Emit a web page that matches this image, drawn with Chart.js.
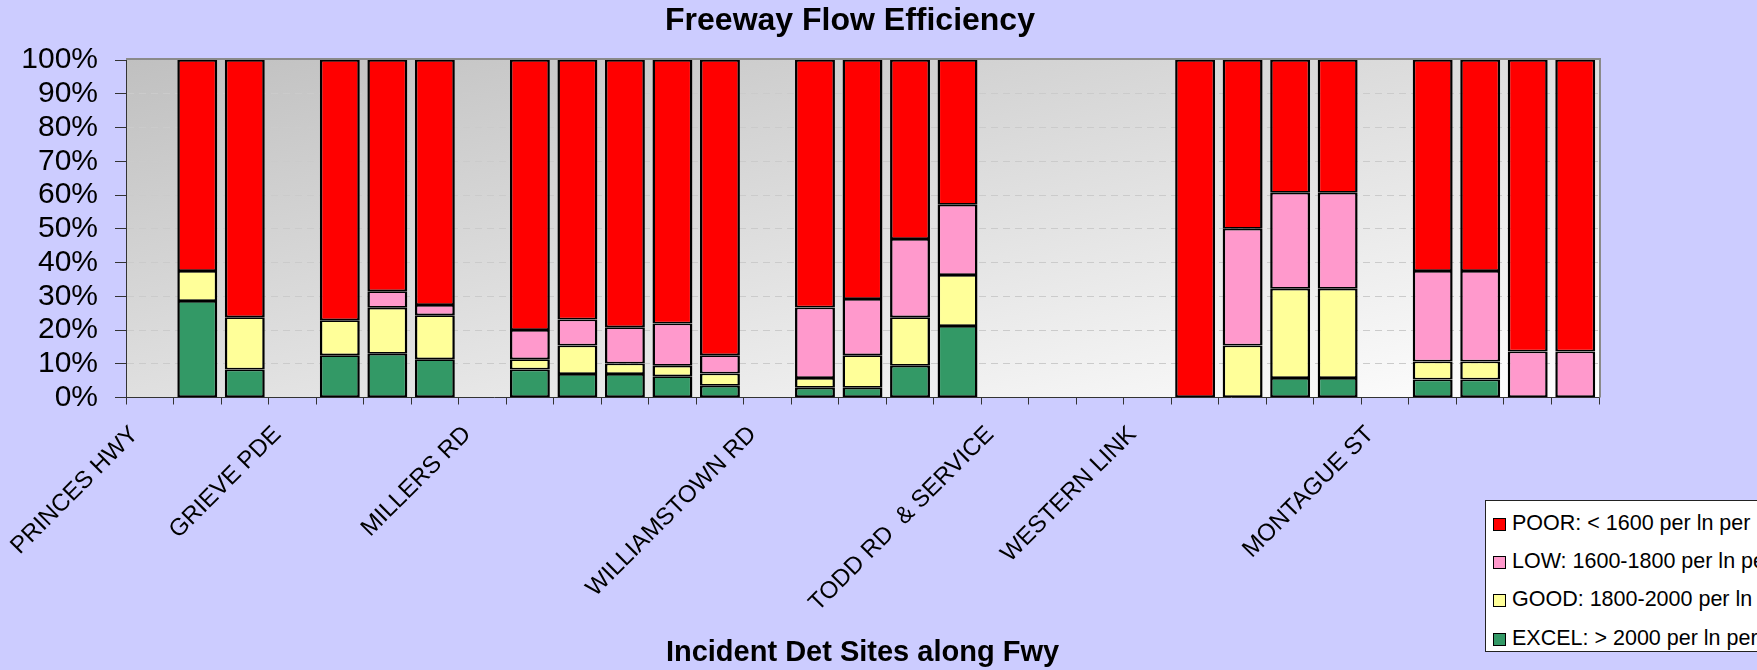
<!DOCTYPE html>
<html>
<head>
<meta charset="utf-8">
<title>Freeway Flow Efficiency</title>
<script src="https://cdn.jsdelivr.net/npm/chart.js@4.4.0/dist/chart.umd.min.js"></script>
<style>
  html, body { margin: 0; padding: 0; background: #ccccff; overflow: hidden; }
  #wrap { position: relative; width: 1757px; height: 670px; }
  #legend {
    position: absolute; left: 1485px; top: 500px; width: 320px; height: 152px;
    background: #fff; border: 1px solid #222; box-sizing: border-box;
    font-family: "Liberation Sans", Arial, sans-serif; font-size: 21.5px; color: #000;
  }
  #legend .item { position: absolute; left: 7px; height: 24px; line-height: 24px; white-space: nowrap; }
  #legend .box { display: inline-block; width: 11px; height: 11px; border: 1.5px solid #000; vertical-align: -1px; margin-right: 6px; }
</style>
</head>
<body>
<div id="wrap">
  <canvas id="chart" width="1757" height="670"></canvas>
  <div id="legend"></div>
</div>
<script>
// categories along the freeway (blank slots are the bars between interchanges)
const sites = [
  'PRINCES HWY', '', '', 'GRIEVE PDE', '', '', '', 'MILLERS RD', '', '', '', '', '', 'WILLIAMSTOWN RD',
  '', '', '', '', 'TODD RD  & SERVICE', '', '', 'WESTERN LINK', '', '', '', '', 'MONTAGUE ST', '', '', '', ''
];

// % of time in each band, per site
const excel = [null, 28.6, 8.3, null, 12.5, 13.0, 11.3, null, 8.3, 7.0, 7.0, 6.3, 3.5, null,
  2.9, 2.9, 9.4, 21.2, null, null, null, null, 0, 0, 5.8, 5.8, null, 5.3, 5.3, 0, 0];
const good = [null, 8.9, 15.5, null, 10.4, 13.6, 13.1, null, 3.0, 8.4, 3.1, 3.1, 3.6, null,
  2.9, 9.6, 14.4, 15.1, null, null, null, null, 0, 15.4, 26.4, 26.4, null, 5.4, 5.4, 0, 0];
const low = [null, 0, 0, null, 0, 4.9, 3.0, null, 8.7, 7.7, 10.7, 12.5, 5.4, null,
  20.9, 16.7, 23.2, 20.8, null, null, null, null, 0, 34.6, 28.5, 28.5, null, 26.8, 26.8, 13.6, 13.6];
const poor = [null, 62.5, 76.2, null, 77.1, 68.5, 72.6, null, 80.0, 76.9, 79.2, 78.1, 87.5, null,
  73.3, 70.8, 53.0, 42.9, null, null, null, null, 100, 50.0, 39.3, 39.3, null, 62.5, 62.5, 86.4, 86.4];

const yTicks = [0, 10, 20, 30, 40, 50, 60, 70, 80, 90, 100];

const series = [
  { label: 'EXCEL: > 2000 per ln per hr', data: excel, color: '#339966' },
  { label: 'GOOD: 1800-2000 per ln per hr', data: good, color: '#ffff99' },
  { label: 'LOW: 1600-1800 per ln per hr', data: low, color: '#ff99cc' },
  { label: 'POOR: < 1600 per ln per hr', data: poor, color: '#ff0000' }
];

Chart.defaults.font.family = '"Liberation Sans", Arial, sans-serif';
Chart.defaults.color = '#000';

// grey-to-white diagonal fill of the plot area plus its grey frame
const plotArea = {
  id: 'plotArea',
  beforeDraw(chart) {
    const {ctx, chartArea: a} = chart;
    ctx.save();
    ctx.translate(a.left, a.top);
    ctx.scale(a.right - a.left, a.bottom - a.top);
    const g = ctx.createLinearGradient(0, 0, 1, 1);
    g.addColorStop(0, '#c0c0c0');
    g.addColorStop(1, '#ffffff');
    ctx.fillStyle = g;
    ctx.fillRect(0, 0, 1, 1);
    ctx.restore();
  },
  beforeDatasetsDraw(chart) {
    const {ctx, chartArea: a} = chart;
    ctx.save();
    ctx.strokeStyle = '#8a8a8a';
    ctx.lineWidth = 2;
    ctx.beginPath();
    ctx.moveTo(a.left, a.top - 1);
    ctx.lineTo(a.right + 1, a.top - 1);
    ctx.lineTo(a.right + 1, a.bottom);
    ctx.stroke();
    ctx.restore();
  }
};

const chart = new Chart(document.getElementById('chart'), {
  type: 'bar',
  data: {
    labels: sites,
    datasets: series.map(s => ({
      label: s.label,
      data: s.data,
      backgroundColor: s.color,
      borderColor: '#000',
      borderWidth: { top: 1.75, bottom: 1.75, left: 2.5, right: 2.5 },
      borderSkipped: false,
      barPercentage: 0.84,
      categoryPercentage: 1
    }))
  },
  options: {
    responsive: false,
    animation: false,
    events: [],
    layout: { padding: { left: 0, right: 57, top: 0, bottom: 0 } },
    plugins: {
      legend: { display: false },
      tooltip: { enabled: false },
      title: {
        display: true,
        text: 'Freeway Flow Efficiency',
        font: { size: 32, weight: 'bold' },
        color: '#000',
        padding: { top: 2, bottom: 19.6 }
      }
    },
    scales: {
      x: {
        stacked: true,
        afterFit(scale) { scale.height = 272.5; },
        grid: { drawOnChartArea: false, drawTicks: true, tickLength: 7, tickColor: '#333', offset: true },
        border: { color: '#333', width: 1 },
        ticks: {
          autoSkip: false, maxRotation: 45, minRotation: 45,
          labelOffset: -15, padding: 16,
          font: { size: 24 }, color: '#000'
        },
        title: {
          display: true,
          text: 'Incident Det Sites along Fwy',
          font: { size: 29, weight: 'bold' },
          color: '#000',
          padding: { top: 4, bottom: 0 }
        }
      },
      y: {
        stacked: true,
        min: 0,
        max: 100,
        afterFit(scale) { scale.width = 126; },
        afterBuildTicks(scale) { scale.ticks = yTicks.map(v => ({ value: v })); },
        grid: {
          color: ctx => (ctx.tick && (ctx.tick.value === 0 || ctx.tick.value === 100)) ? 'rgba(0,0,0,0)' : '#cbcbcb',
          tickColor: '#333', tickLength: 11, drawTicks: true
        },
        border: { color: '#333', width: 1, dash: [7, 5] },
        ticks: {
          autoSkip: false,
          padding: 17,
          font: { size: 30 }, color: '#000',
          callback: v => v + '%'
        }
      },
      // empty space on the right, under the legend column
      yRight: {
        type: 'linear',
        position: 'right',
        afterFit(scale) { scale.width = 101; },
        ticks: { display: false },
        grid: { display: false },
        border: { display: false }
      }
    }
  },
  plugins: [plotArea]
});

// legend box at the lower right, top item first
const legend = document.getElementById('legend');
const rowTops = [10, 48, 86, 125];
series.slice().reverse().forEach((s, i) => {
  const item = document.createElement('div');
  item.className = 'item';
  item.style.top = rowTops[i] + 'px';
  item.innerHTML = '<span class="box" style="background:' + s.color + '"></span>' + s.label;
  legend.appendChild(item);
});
</script>
</body>
</html>
